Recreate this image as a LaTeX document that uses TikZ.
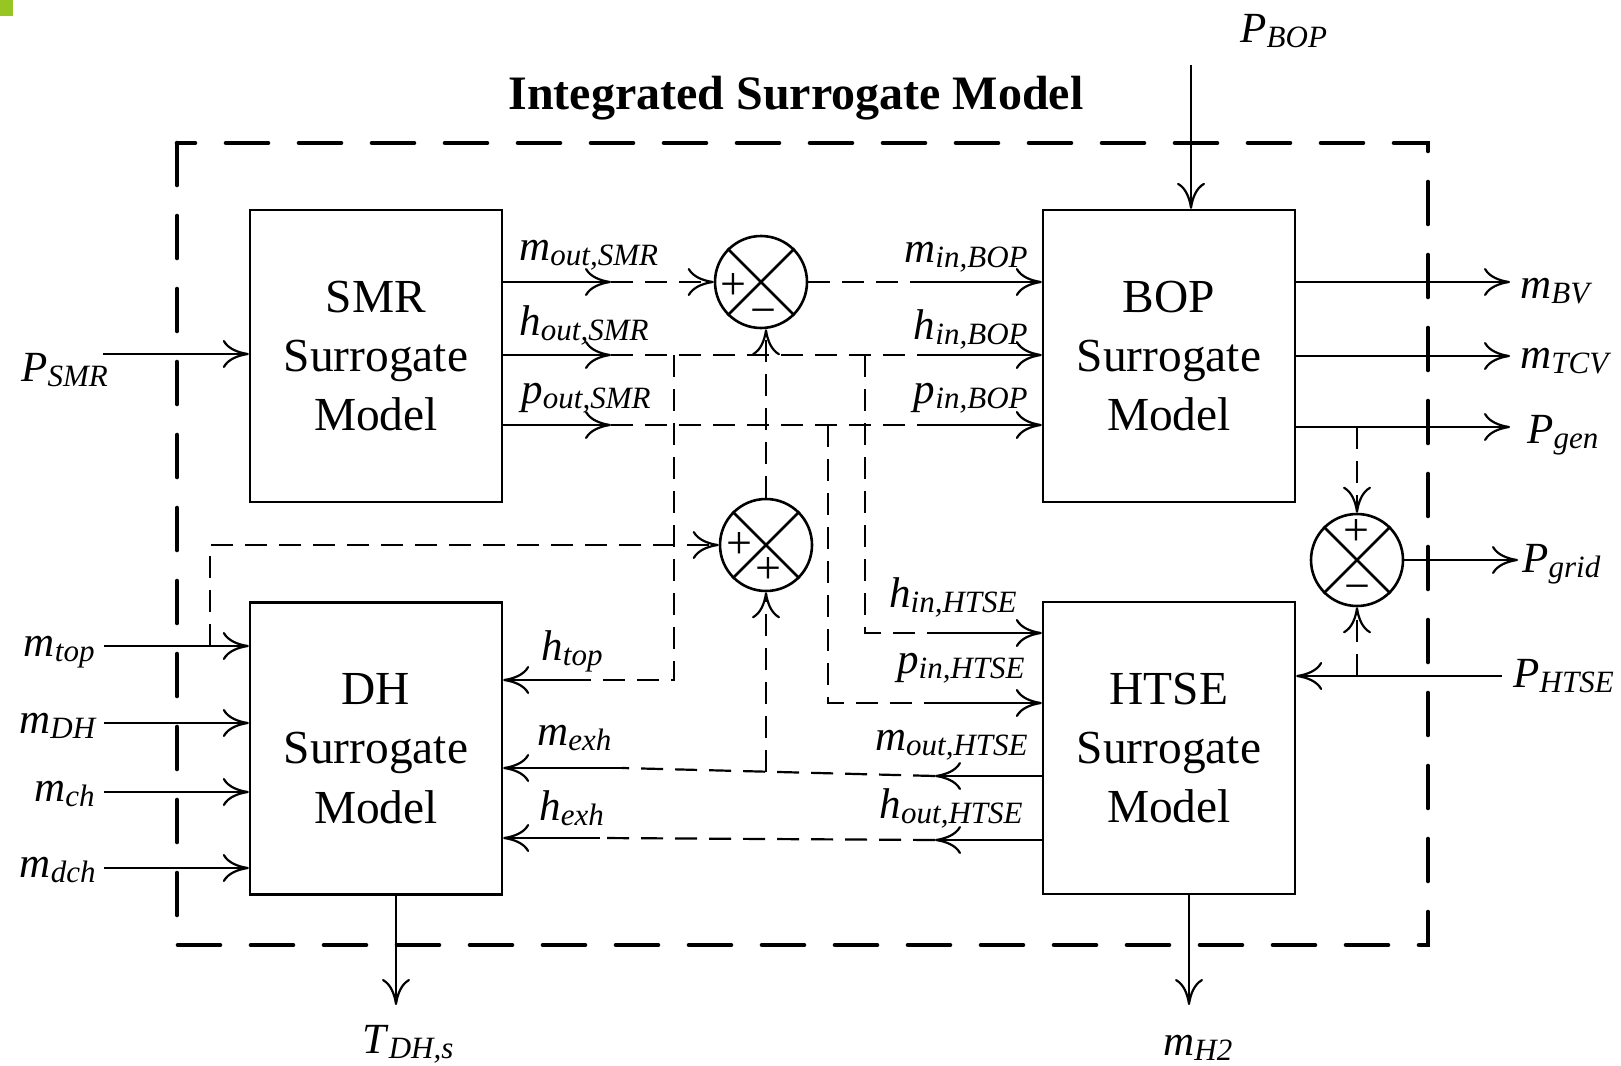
\documentclass[tikz,border=0pt]{standalone}
\usepackage{fontspec}
\setmainfont{Liberation Serif}
\usepackage{tikz}
\usetikzlibrary{arrows.meta}

\definecolor{cornergreen}{RGB}{151,198,35}
\newcommand{\sig}[2]{\textit{#1}\raisebox{-2.5pt}{\fontsize{15.5}{16}\selectfont\textit{#2}}}

\tikzset{
  block/.style={draw, line width=1.2pt, minimum width=126pt, minimum height=146pt,
    align=center, font=\fontsize{23.7}{29.7}\selectfont},
  summer/.style={draw, circle, line width=1.3pt, minimum size=46pt, inner sep=0pt},
  port/.style={line width=1.1pt, -{Computer Modern Rightarrow[length=13pt,width=14pt]}},
  link/.style={line width=1.1pt, dash pattern=on 11pt off 6pt},
  linkarrow/.style={link, -{Computer Modern Rightarrow[length=13pt,width=14pt]}},
  lbl/.style={inner sep=0pt, font=\fontsize{21.5}{24}\selectfont},
  sign/.style={inner sep=0pt, font=\fontsize{23}{23}\selectfont},
  outerframe/.style={line width=2.3pt, dash pattern=on 21pt off 15.5pt, line cap=round}
}

\begin{document}
\begin{tikzpicture}[x=0.5pt, y=-0.5pt]
        \useasboundingbox (0,0) rectangle (1621,1065);
        \fill[cornergreen] (0,0) rectangle (13,16);

        % frame
        \draw[outerframe] (177,143) rectangle (1428,945);
        \node[anchor=base, font=\fontsize{24}{28}\selectfont\bfseries] (title)
            at (796,110) {Integrated Surrogate Model};

        % surrogate blocks
        \node[block] (smr) at (376,356) {SMR\\Surrogate\\Model};
        \node[block] (bop) at (1169,356) {BOP\\Surrogate\\Model};
        \node[block] (dh) at (376,748.5) {DH\\Surrogate\\Model};
        \node[block] (htse) at (1169,748) {HTSE\\Surrogate\\Model};

        % summing points
        \node[summer] (msum) at (761,282) {};
        \node[summer] (hsum) at (766,545) {};
        \node[summer] (psum) at (1357,560) {};
        \foreach \s in {msum,hsum,psum}
            \draw[line width=1.3pt] (\s.north west) -- (\s.south east)
                (\s.north east) -- (\s.south west);
        \node[sign] (msumplus) at (733,287) {+};
        \node[sign] (msumminus) at (763,317) {−};
        \node[sign] (hsumplusA) at (739,546) {+};
        \node[sign] (hsumplusB) at (768,570) {+};
        \node[sign] (psumplus) at (1356,533) {+};
        \node[sign] (psumminus) at (1357,593) {−};

        % port ends
        \coordinate (moutSMR) at (611,282);
        \coordinate (houtSMR) at (611,355);
        \coordinate (poutSMR) at (611,425);
        \coordinate (minBOP) at (920,282);
        \coordinate (hinBOP) at (920,355);
        \coordinate (pinBOP) at (920,425);
        \coordinate (hinHTSE) at (937,633);
        \coordinate (pinHTSE) at (937,703);
        \coordinate (moutHTSE) at (935,776);
        \coordinate (houtHTSE) at (935,840);
        \coordinate (mexh) at (622,768);
        \coordinate (hexh) at (600,838);
        \coordinate (htop) at (569,680);
        \coordinate (hsplitA) at (674,355);
        \coordinate (hsplitB) at (865,355);
        \coordinate (psplit) at (828,425);
        \coordinate (mtopsplit) at (210,646);
        \coordinate (msplit) at (766,772);
        \coordinate (pgensplit) at (1357,427);
        \coordinate (phtsesplit) at (1357,676);
        \coordinate (Psmr) at (103,354);
        \coordinate (Mtop) at (104,646);
        \coordinate (Mdh) at (104,723);
        \coordinate (Mch) at (104,792);
        \coordinate (Mdch) at (104,868);
        \coordinate (Mbv) at (1510,282);
        \coordinate (Mtcv) at (1510,356);
        \coordinate (Pgen) at (1510,427);
        \coordinate (Pgrid) at (1518,560);
        \coordinate (Phtse) at (1502,676);
        \coordinate (Pbop) at (1191,65);
        \coordinate (Tdh) at (396,1005);
        \coordinate (Mh2) at (1189,1005);

        % SMR -> BOP
        \draw[port] (Psmr) -- (Psmr -| smr.west);
        \draw[port] (smr.east |- moutSMR) -- (moutSMR);
        \draw[port] (smr.east |- houtSMR) -- (houtSMR);
        \draw[port] (smr.east |- poutSMR) -- (poutSMR);
        \draw[linkarrow] (moutSMR) -- (msum.west);
        \draw[link] (msum.east) -- (minBOP);
        \draw[port] (minBOP) -- (minBOP -| bop.west);
        \draw[link] (houtSMR) -- (hinBOP);
        \draw[port] (hinBOP) -- (hinBOP -| bop.west);
        \draw[link] (poutSMR) -- (pinBOP);
        \draw[port] (pinBOP) -- (pinBOP -| bop.west);

        % branches to DH and HTSE
        \draw[link] (hsplitA) |- (htop);
        \draw[port] (htop) -- (htop -| dh.east);
        \draw[link] (hsplitB) |- (hinHTSE);
        \draw[port] (hinHTSE) -- (hinHTSE -| htse.west);
        \draw[link] (psplit) |- (pinHTSE);
        \draw[port] (pinHTSE) -- (pinHTSE -| htse.west);

        % HTSE -> DH
        \draw[port] (htse.west |- moutHTSE) -- (moutHTSE);
        \draw[link] (moutHTSE) -- (mexh);
        \draw[port] (mexh) -- (mexh -| dh.east);
        \draw[port] (htse.west |- houtHTSE) -- (houtHTSE);
        \draw[link] (houtHTSE) -- (hexh);
        \draw[port] (hexh) -- (hexh -| dh.east);
        \draw[linkarrow] (msplit) -- (hsum.south);
        \draw[linkarrow] (hsum.north) -- (hsum.north |- msum.south);
        \draw[linkarrow] (mtopsplit) |- (hsum.west);

        % outer inputs and outputs
        \foreach \c in {Mtop,Mdh,Mch,Mdch}
            \draw[port] (\c) -- (\c -| dh.west);
        \foreach \c in {Mbv,Mtcv,Pgen}
            \draw[port] (bop.east |- \c) -- (\c);
        \draw[linkarrow] (pgensplit) -- (psum.north);
        \draw[linkarrow] (phtsesplit) -- (psum.south);
        \draw[port] (psum.east) -- (Pgrid);
        \draw[port] (Phtse) -- (Phtse -| htse.east);
        \draw[port] (Pbop) -- (Pbop |- bop.north);
        \draw[port] (dh.south -| Tdh) -- (Tdh);
        \draw[port] (htse.south -| Mh2) -- (Mh2);

        % labels
        \node[lbl, anchor=base west] (lmoutSMR) at (519,260) {\sig{m}{out,SMR}};
        \node[lbl, anchor=base west] (lhoutSMR) at (519,335) {\sig{h}{out,SMR}};
        \node[lbl, anchor=base west] (lpoutSMR) at (521,403) {\sig{p}{out,SMR}};
        \node[lbl, anchor=base east] (lminBOP) at (1028,262) {\sig{m}{in,BOP}};
        \node[lbl, anchor=base east] (lhinBOP) at (1028,339) {\sig{h}{in,BOP}};
        \node[lbl, anchor=base east] (lpinBOP) at (1028,403) {\sig{p}{in,BOP}};
        \node[lbl, anchor=base east] (lhinHTSE) at (1017,607) {\sig{h}{in,HTSE}};
        \node[lbl, anchor=base east] (lpinHTSE) at (1025,673) {\sig{p}{in,HTSE}};
        \node[lbl, anchor=base east] (lmoutHTSE) at (1028,750) {\sig{m}{out,HTSE}};
        \node[lbl, anchor=base east] (lhoutHTSE) at (1023,818) {\sig{h}{out,HTSE}};
        \node[lbl, anchor=base west] (lhtop) at (541,660) {\sig{h}{top}};
        \node[lbl, anchor=base west] (lmexh) at (537,745) {\sig{m}{exh}};
        \node[lbl, anchor=base west] (lhexh) at (539,820) {\sig{h}{exh}};
        \node[lbl, anchor=base west] (lPsmr) at (21,381) {\sig{P}{SMR}};
        \node[lbl, anchor=base east] (lMtop) at (95,656) {\sig{m}{top}};
        \node[lbl, anchor=base east] (lMdh) at (97,733) {\sig{m}{DH}};
        \node[lbl, anchor=base east] (lMch) at (95,801) {\sig{m}{ch}};
        \node[lbl, anchor=base east] (lMdch) at (96,877) {\sig{m}{dch}};
        \node[lbl, anchor=base west] (lMbv) at (1520,298) {\sig{m}{BV}};
        \node[lbl, anchor=base west] (lMtcv) at (1520,368) {\sig{m}{TCV}};
        \node[lbl, anchor=base west] (lPgen) at (1527,443) {\sig{P}{gen}};
        \node[lbl, anchor=base west] (lPgrid) at (1522,572) {\sig{P}{grid}};
        \node[lbl, anchor=base west] (lPhtse) at (1513,687) {\sig{P}{HTSE}};
        \node[lbl, anchor=base west] (lPbop) at (1240,43) {\sig{P}{BOP}};
        \node[lbl, anchor=base west] (lTdh) at (362,1053) {\sig{T}{DH,s}};
        \node[lbl, anchor=base west] (lMh2) at (1163,1055) {\sig{m}{H2}};
\end{tikzpicture}
\end{document}
